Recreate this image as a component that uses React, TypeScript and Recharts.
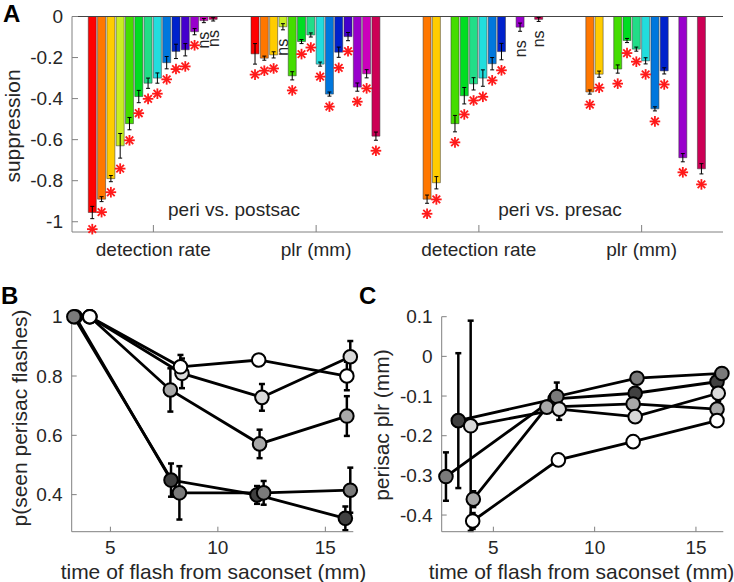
import React from 'react';
import { BarChart, Bar, XAxis, YAxis, ErrorBar, LabelList, ReferenceLine, LineChart, Line } from 'recharts';

const FONT = '"Liberation Sans", Arial, Helvetica, sans-serif';
const INK = '#262626';
const AXIS = '#808080';

// ---- panel A: suppression per flash bin (14 bins per group)
const groupNames = ['detection rate', 'plr (mm)', 'detection rate', 'plr (mm)'];
const binColors = [
  '#ff0000', '#ff7700', '#ffcc00', '#c8ee22', '#44dd00', '#00dd22', '#22dd88',
  '#22dddd', '#0077dd', '#0022cc', '#4400cc', '#9900cc', '#cc00bb', '#cc0055',
];

const detPost = [-0.955, -0.89, -0.79, -0.63, -0.522, -0.39, -0.325, -0.3, -0.225, -0.17, -0.162, -0.074, -0.02, -0.014];
const detPostErr = [0.03, 0.012, 0.015, 0.06, 0.03, 0.03, 0.025, 0.025, 0.03, 0.035, 0.03, 0.015, 0.01, 0.008];
const detPostSig = [1, 1, 1, 1, 1, 1, 1, 1, 1, 1, 1, 1, 0, 0];

const plrPost = [-0.182, -0.203, -0.187, -0.05, -0.289, -0.122, -0.09, -0.232, -0.378, -0.174, -0.098, -0.344, -0.279, -0.583];
const plrPostErr = [0.05, 0.01, 0.015, 0.015, 0.02, 0.01, 0.01, 0.01, 0.01, 0.025, 0.02, 0.02, 0.02, 0.02];
const plrPostSig = [1, 1, 1, 0, 1, 1, 1, 1, 1, 1, 1, 1, 1, 1];

const detPre = [0, -0.89, -0.81, 0, -0.522, -0.386, -0.328, -0.3, -0.23, -0.171, 0, -0.052, 0, -0.014];
const detPreErr = [0, 0.02, 0.03, 0, 0.04, 0.04, 0.03, 0.04, 0.03, 0.04, 0, 0.02, 0, 0.01];
const detPreSig = [-1, 1, 1, -1, 1, 1, 1, 1, 1, 1, -1, 0, -1, 0];

const plrPre = [0, -0.368, -0.281, 0, -0.256, -0.117, -0.159, -0.216, -0.45, -0.265, 0, -0.688, 0, -0.742];
const plrPreErr = [0, 0.01, 0.015, 0, 0.02, 0.01, 0.01, 0.015, 0.01, 0.015, 0, 0.02, 0, 0.025];
const plrPreSig = [-1, 1, 1, -1, 1, 1, 1, 1, 1, 1, -1, 1, -1, 1];

const aTicks = [-1, -0.8, -0.6, -0.4, -0.2, 0];

const groupVals = [detPost, plrPost, detPre, plrPre];
const groupErrs = [detPostErr, plrPostErr, detPreErr, plrPreErr];
const groupSigs = [detPostSig, plrPostSig, detPreSig, plrPreSig];

const tableA = groupNames.map((name, g) => {
  const row: any = { grp: `${name}-${g}` };
  groupVals[g].forEach((v, i) => {
    row[`b${i}`] = v;
    row[`e${i}`] = groupErrs[g][i];
    row[`s${i}`] = groupSigs[g][i];
  });
  return row;
});

// ---- panel B / C: five series, x = flash time, y = value, e = error
const shades = ['#404040', '#7a7a7a', '#a8a8a8', '#d9d9d9', '#ffffff'];

const seenDark = [{ x: 3.37, y: 1, e: 0 }, { x: 7.82, y: 0.449, e: 0.056 }, { x: 11.82, y: 0.399, e: 0.03 }, { x: 15.93, y: 0.32, e: 0.04 }];
const seenMid = [{ x: 3.3, y: 1, e: 0 }, { x: 8.21, y: 0.406, e: 0.09 }, { x: 12.13, y: 0.406, e: 0.04 }, { x: 16.16, y: 0.415, e: 0.076 }];
const seenGray = [{ x: 4.04, y: 1, e: 0 }, { x: 7.79, y: 0.753, e: 0.073 }, { x: 11.94, y: 0.571, e: 0.048 }, { x: 16.0, y: 0.665, e: 0.067 }];
const seenLight = [{ x: 4.04, y: 1, e: 0 }, { x: 8.33, y: 0.809, e: 0.05 }, { x: 12.05, y: 0.728, e: 0.045 }, { x: 16.16, y: 0.865, e: 0.053 }];
const seenWhite = [{ x: 4.04, y: 1, e: 0 }, { x: 8.26, y: 0.831, e: 0.04 }, { x: 11.9, y: 0.854, e: 0.01 }, { x: 16.0, y: 0.8, e: 0.048 }];

const plrDark = [{ x: 3.27, y: -0.162, e: 0.17 }, { x: 8.05, y: -0.107, e: 0.015 }, { x: 12.0, y: -0.093, e: 0.012 }, { x: 16.04, y: -0.064, e: 0.012 }];
const plrMid = [{ x: 2.66, y: -0.303, e: 0.061 }, { x: 8.13, y: -0.101, e: 0.035 }, { x: 12.09, y: -0.055, e: 0.01 }, { x: 16.28, y: -0.043, e: 0.012 }];
const plrGray = [{ x: 4.01, y: -0.36, e: 0.02 }, { x: 7.64, y: -0.128, e: 0.012 }, { x: 11.9, y: -0.12, e: 0.01 }, { x: 16.04, y: -0.133, e: 0.012 }];
const plrLight = [{ x: 3.88, y: -0.175, e: 0.265 }, { x: 8.25, y: -0.133, e: 0.027 }, { x: 12.0, y: -0.152, e: 0.012 }, { x: 16.1, y: -0.093, e: 0.02 }];
const plrWhite = [{ x: 3.98, y: -0.415, e: 0.02 }, { x: 8.21, y: -0.261, e: 0.01 }, { x: 11.9, y: -0.215, e: 0.01 }, { x: 16.04, y: -0.162, e: 0.015 }];

const seenSeries = [seenDark, seenMid, seenGray, seenLight, seenWhite];
const plrSeries = [plrDark, plrMid, plrGray, plrLight, plrWhite];

const timeTicks = [5, 10, 15];
const seenTicks = [0.4, 0.6, 0.8, 1];
const plrTicks = [-0.4, -0.3, -0.2, -0.1, 0, 0.1];

const tickStyle = { fill: INK, fontSize: 19 };

// star or "ns" under each bar
const makeMark = (i: number) => (props: any) => {
  const row = props.value && typeof props.value === 'object' ? props.value : tableA[props.index];
  if (!row) return null;
  const v = row[`b${i}`];
  const sig = row[`s${i}`];
  if (!v || sig < 0) return null;
  const vb = props.viewBox || props;
  const x = Number(vb.x), y = Number(vb.y), w = Number(vb.width), h = Number(vb.height);
  if (!isFinite(x) || !isFinite(y) || !isFinite(h) || h === 0) return null;
  const k = Math.abs(h) / Math.abs(v);
  const end = Math.max(y, y + h) + row[`e${i}`] * k;
  const cx = x + w / 2;
  if (sig === 0) {
    return (
      <text transform={`translate(${cx},${end + 9}) rotate(-90)`} textAnchor="end"
        dominantBaseline="central" fontSize={16} fill={INK}>ns</text>
    );
  }
  const cy = end + 10.5;
  const r = 5.3, d = 3.8;
  return (
    <g stroke="#ff1a1a" strokeWidth={1.8}>
      <line x1={cx - r} y1={cy} x2={cx + r} y2={cy} />
      <line x1={cx} y1={cy - r} x2={cx} y2={cy + r} />
      <line x1={cx - d} y1={cy - d} x2={cx + d} y2={cy + d} />
      <line x1={cx - d} y1={cy + d} x2={cx + d} y2={cy - d} />
    </g>
  );
};

function PanelA() {
  return (
    <BarChart width={734} height={262} data={tableA} margin={{ top: 16.5, right: 11, bottom: 0, left: 0 }}
      barCategoryGap="10%" barGap={1.3}>
      <XAxis dataKey="grp" interval={0} height={30} tickFormatter={(_: any, i: number) => groupNames[i]}
        tick={tickStyle} tickSize={-7} tickMargin={18} axisLine={{ stroke: AXIS }} tickLine={{ stroke: AXIS }} />
      <YAxis type="number" domain={[-1.05, 0]} ticks={aTicks} width={72} tick={tickStyle}
        tickSize={-6} tickMargin={15} axisLine={{ stroke: AXIS }} tickLine={{ stroke: AXIS }} />
      {binColors.map((c, i) => (
        <Bar key={i} dataKey={`b${i}`} fill={c} stroke="#333" strokeWidth={0.5} isAnimationActive={false}>
          <ErrorBar dataKey={`e${i}`} width={2} stroke="#000" strokeWidth={1} />
          <LabelList dataKey={(row: any) => row} content={makeMark(i)} />
        </Bar>
      ))}
      <ReferenceLine y={0} stroke="#444" strokeWidth={1} />
    </BarChart>
  );
}

const timeDomain = (series: any[][]) => (series === seenSeries ? [3.2, 16.3] : [2.45, 16.35]);

function TimePanel({ series, domain, ticks, width, right }: { series: any[][]; domain: number[]; ticks: number[]; width: number; right: number }) {
  return (
    <LineChart width={width} height={292} margin={{ top: 26.7, right, bottom: 0, left: 0 }}>
      <XAxis type="number" dataKey="x" domain={timeDomain(series)} ticks={timeTicks} height={50.3}
        tick={tickStyle} tickSize={-5} tickMargin={14.3} axisLine={{ stroke: AXIS }} tickLine={{ stroke: AXIS }} />
      <YAxis type="number" domain={domain} ticks={ticks} width={71.7} tick={tickStyle}
        tickSize={-5} tickMargin={14} axisLine={{ stroke: AXIS }} tickLine={{ stroke: AXIS }} />
      {series.map((pts, i) => (
        <Line key={i} data={pts} dataKey="y" type="linear" stroke="#000" strokeWidth={2.8}
          dot={{ r: 6.8, fill: shades[i], stroke: '#000', strokeWidth: 2 }} activeDot={false}
          isAnimationActive={false}>
          <ErrorBar dataKey="e" width={3} stroke="#000" strokeWidth={2.5} />
        </Line>
      ))}
    </LineChart>
  );
}

export default function App() {
  const t = { fontFamily: FONT, fill: INK };
  return (
    <div style={{ position: 'absolute', left: 0, top: 0, width: 734, height: 582, background: '#fff', overflow: 'hidden', fontFamily: FONT }}>
      <div style={{ position: 'absolute', left: 0, top: 0 }}>
        <PanelA />
      </div>
      <div style={{ position: 'absolute', left: 0, top: 290 }}>
        <TimePanel series={seenSeries} domain={[0.275, 1]} ticks={seenTicks} width={370} right={16.7} />
      </div>
      <div style={{ position: 'absolute', left: 370, top: 290 }}>
        <TimePanel series={plrSeries} domain={[-0.442, 0.1]} ticks={plrTicks} width={364} right={10.7} />
      </div>
      <svg width={734} height={582} style={{ position: 'absolute', left: 0, top: 0, pointerEvents: 'none' }}>
        <text x={3} y={22} fontSize={24} fontWeight="bold" fill="#000" fontFamily={FONT}>A</text>
        <text x={1} y={304} fontSize={24} fontWeight="bold" fill="#000" fontFamily={FONT}>B</text>
        <text x={359} y={304} fontSize={24} fontWeight="bold" fill="#000" fontFamily={FONT}>C</text>
        <text {...t} fontSize={21} textAnchor="middle" transform="translate(19.5,126) rotate(-90)">suppression</text>
        <text {...t} fontSize={21} textAnchor="middle" transform="translate(27.3,418) rotate(-90)">p(seen perisac flashes)</text>
        <text {...t} fontSize={21} textAnchor="middle" transform="translate(389,425) rotate(-90)">perisac plr (mm)</text>
        <text {...t} fontSize={21} textAnchor="middle" x={213.5} y={579}>time of flash from saconset (mm)</text>
        <text {...t} fontSize={21} textAnchor="middle" x={581.5} y={579}>time of flash from saconset (mm)</text>
        <text {...t} fontSize={19} textAnchor="middle" x={234} y={216}>peri vs. postsac</text>
        <text {...t} fontSize={19} textAnchor="middle" x={560} y={216}>peri vs. presac</text>
      </svg>
    </div>
  );
}
